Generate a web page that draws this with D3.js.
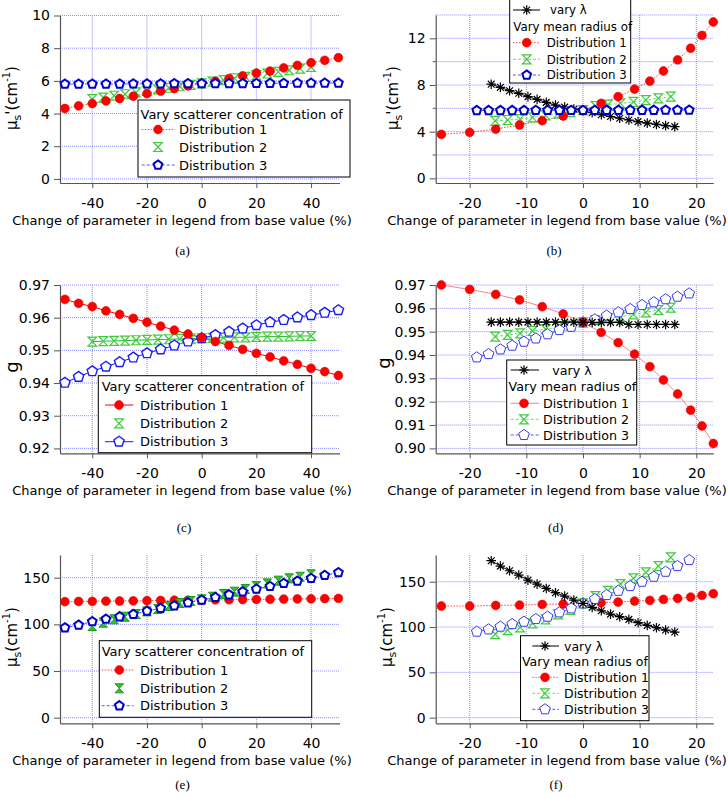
<!DOCTYPE html>
<html><head><meta charset="utf-8">
<script src="https://cdn.jsdelivr.net/npm/d3@7"></script>
<style>body{margin:0;background:#fff}svg{display:block}</style>
</head><body>
<svg id="chart" width="728" height="798"></svg>
<script>
// ---------------- DATA ----------------
const xConc = [-50,-45,-40,-35,-30,-25,-20,-15,-10,-5,0,5,10,15,20,25,30,35,40,45,50];
const xConc2 = [-40,-36,-32,-28,-24,-20,-16,-12,-8,-4,0,4,8,12,16,20,24,28,32,36,40];
const xLambda = [-16.2,-14.58,-12.96,-11.34,-9.72,-8.1,-6.48,-4.86,-3.24,-1.62,0,1.62,3.24,4.86,6.48,8.1,9.72,11.34,12.96,14.58,16.2];
const xRadius1 = [-25,-20,-15.4,-11.2,-7.2,-3.5,0,3.2,6.2,9.1,11.8,14.2,16.7,19,21,23];
const xRadius2 = [-15.5,-13.3,-11.1,-8.9,-6.6,-4.4,-2.2,0,2.2,4.4,6.6,8.9,11.1,13.3,15.5];
const xRadius3 = [-18.75,-16.67,-14.58,-12.5,-10.42,-8.33,-6.25,-4.17,-2.08,0,2.08,4.17,6.25,8.33,10.42,12.5,14.58,16.67,18.75];

// (a) reduced scattering, vary concentration
const aD1 = [4.31,4.47,4.61,4.77,4.92,5.06,5.22,5.37,5.53,5.69,5.83,5.98,6.14,6.30,6.48,6.60,6.79,6.95,7.11,7.26,7.42];
const aD2 = [4.88,4.98,5.09,5.18,5.29,5.38,5.48,5.58,5.67,5.76,5.85,5.95,6.05,6.15,6.25,6.35,6.45,6.55,6.65,6.75,6.85];
const aD3 = [5.80,5.80,5.81,5.81,5.81,5.82,5.82,5.82,5.83,5.83,5.83,5.84,5.84,5.84,5.85,5.85,5.85,5.86,5.86,5.86,5.87];
// (b) reduced scattering, vary radius / lambda
const bLambda = [8.07,7.80,7.51,7.29,7.00,6.77,6.51,6.28,6.10,5.93,5.80,5.62,5.45,5.30,5.15,5.00,4.86,4.73,4.62,4.52,4.43];
const bD1 = [3.77,3.94,4.22,4.57,4.94,5.34,5.80,6.43,7.00,7.65,8.34,9.20,10.15,11.15,12.25,13.40];
const bD2 = [4.92,5.00,5.08,5.22,5.40,5.55,5.68,5.85,6.20,6.32,6.42,6.55,6.70,6.85,7.00];
const bD3 = [5.82,5.82,5.82,5.82,5.82,5.83,5.83,5.83,5.83,5.83,5.83,5.84,5.84,5.84,5.84,5.84,5.85,5.85,5.85];
// (c) g, vary concentration
const cD1 = [0.9656,0.9644,0.9634,0.9621,0.9610,0.9598,0.9586,0.9574,0.9562,0.9550,0.9539,0.9527,0.9515,0.9503,0.9491,0.9480,0.9468,0.9457,0.9445,0.9435,0.9423];
const cD2 = [0.9527,0.9528,0.9529,0.9530,0.9531,0.9532,0.9533,0.9534,0.9535,0.9536,0.9537,0.9538,0.9539,0.9540,0.9540,0.9541,0.9542,0.9542,0.9543,0.9544,0.9544];
const cD3 = [0.9401,0.9419,0.9436,0.9450,0.9464,0.9478,0.9491,0.9503,0.9515,0.9527,0.9537,0.9547,0.9557,0.9567,0.9577,0.9586,0.9593,0.9601,0.9608,0.9615,0.9623];
// (d) g, vary radius / lambda
const dLambda = [0.9541,0.9541,0.9541,0.9541,0.9541,0.9541,0.9541,0.9541,0.9541,0.9541,0.9540,0.9540,0.9540,0.9540,0.9540,0.9531,0.9531,0.9531,0.9531,0.9531,0.9531];
const dD1 = [0.9700,0.9681,0.9660,0.9636,0.9607,0.9576,0.9540,0.9497,0.9453,0.9404,0.9350,0.9293,0.9233,0.9164,0.9096,0.9021];
const dD2 = [0.9479,0.9486,0.9493,0.9503,0.9511,0.9519,0.9526,0.9540,0.9550,0.9557,0.9564,0.9574,0.9583,0.9593,0.9603];
const dD3 = [0.9390,0.9404,0.9424,0.9440,0.9457,0.9471,0.9489,0.9507,0.9521,0.9540,0.9553,0.9569,0.9583,0.9597,0.9614,0.9626,0.9639,0.9650,0.9664];
// (e) scattering, vary concentration
const eD1 = [124.3,124.5,124.7,124.9,125.0,125.2,125.4,125.6,125.8,125.9,126.1,126.3,126.4,126.6,126.8,126.9,127.1,127.2,127.4,127.6,127.8];
const eD2 = [98.2,101.8,105.4,108.2,111.0,113.9,116.4,119.6,122.9,125.0,126.8,129.6,132.5,135.0,137.9,141.0,143.9,146.8,149.3,151.0,153.6];
const eD3 = [96.4,99.3,102.9,105.7,108.2,110.7,114.3,117.1,120.0,123.2,126.0,128.9,131.8,135.0,137.9,140.7,143.9,146.4,149.3,152.5,155.4];
// (f) scattering, vary radius / lambda
const fLambda = [173.2,167.3,162.1,157.4,151.8,147.4,142.6,137.9,134.2,129.8,126.1,121.7,118.0,114.3,111.4,108.5,104.8,101.8,99.3,96.7,94.5];
const fD1 = [123.2,123.2,123.9,124.3,125.0,125.4,126.1,126.8,127.6,128.7,129.4,130.5,131.6,133.1,134.9,136.8];
const fD2 = [92.3,96.7,99.6,104.0,108.5,114.0,118.8,126.1,134.2,140.0,147.4,153.7,160.3,167.3,176.8];
const fD3 = [94.9,97.4,100.4,103.3,105.9,108.8,111.4,116.2,120.6,126.1,130.9,135.3,140.0,145.2,150.0,155.5,161.0,167.3,173.9];

// ticks
const xTicksConc = [-40,-20,0,20,40];
const xTicksRadius = [-20,-10,0,10,20];
const yTicksA = [0,2,4,6,8,10];
const yTicksB = [0,4,8,12];
const yGridB = [0,2,4,6,8,10,12,14];
const yTicksC = [0.92,0.93,0.94,0.95,0.96,0.97];
const yTicksD = [0.90,0.91,0.92,0.93,0.94,0.95,0.96,0.97];
const yTicksEF = [0,50,100,150];

const xTitle = "Change of parameter in legend from base value (%)";
const legConcTitle = "Vary scatterer concentration of";
const legRadTitle = "Vary mean radius of";
const names = ["Distribution 1","Distribution 2","Distribution 3"];
const lambdaName = "vary \u03BB";
const panelLabels = ["(a)","(b)","(c)","(d)","(e)","(f)"];

// ---------------- STYLE ----------------
const FONT = "DejaVu Sans, Verdana, sans-serif";
const AXIS = "#555";
const GRID = "#8c8cff";
const svg = d3.select("#chart");

function pentagonPath(r){
  const pts=[0,1,2,3,4].map(i=>{const a=-Math.PI/2+i*2*Math.PI/5;return [r*Math.cos(a),r*Math.sin(a)];});
  return "M"+pts.map(p=>p[0].toFixed(2)+","+p[1].toFixed(2)).join("L")+"Z";
}
function hourglassPath(w,h){return `M${-w},${-h}H${w}L${-w},${h}H${w}Z`;}
function asteriskPath(r){const d=r*0.7071;return `M0,${-r}V${r}M${-r},0H${r}M${-d},${-d}L${d},${d}M${-d},${d}L${d},${-d}`;}
function circlePath(r){return `M${r},0A${r},${r} 0 1,1 ${-r},0A${r},${r} 0 1,1 ${r},0Z`;}

const MK = {
  circle:{d:circlePath(4.4),fill:"#ff0000",stroke:"#e00000",sw:0.6},
  hourglass:{d:hourglassPath(4.3,4.5),fill:"none",stroke:"#3ccc3c",sw:1.2},
  hourglassFill:{d:hourglassPath(4.3,4.5),fill:"#2fc42f",stroke:"#1a9a1a",sw:1},
  pentBold:{d:pentagonPath(4.6),fill:"#fff",stroke:"#0000cc",sw:2},
  pentSolid:{d:pentagonPath(5.4),fill:"#fff",stroke:"#1a1aff",sw:1.4},
  pentLight:{d:pentagonPath(5.6),fill:"#fff",stroke:"#3a3aee",sw:1},
  star:{d:asteriskPath(4.8),fill:"none",stroke:"#000",sw:1.2}
};
const LS = {
  redDot:{stroke:"#ff3030",dash:"1.5,1.5",w:0.9},
  redSolid:{stroke:"#ff0000",dash:null,w:1},
  redThin:{stroke:"#ff6060",dash:null,w:0.8},
  greenDot:{stroke:"#50d050",dash:"1.5,1.5",w:0.8},
  greenSolid:{stroke:"#2ab82a",dash:null,w:1},
  greenDash:{stroke:"#50d050",dash:"3,2",w:0.8},
  blueDash:{stroke:"#2a2aee",dash:"3,2",w:0.8},
  blueSolid:{stroke:"#1a1aff",dash:null,w:1},
  black:{stroke:"#000",dash:null,w:1}
};

function styleLine(sel, ls){
  sel.attr("fill","none").attr("stroke",ls.stroke).attr("stroke-width",ls.w);
  if(ls.dash) sel.attr("stroke-dasharray",ls.dash);
}
function styleMarker(sel, m){
  sel.attr("d",m.d).attr("fill",m.fill).attr("stroke",m.stroke).attr("stroke-width",m.sw);
}

function drawPanel(p){
  const g = svg.append("g");
  const x = d3.scaleLinear().domain(p.xDomain).range([p.left,p.right]);
  const y = d3.scaleLinear().domain(p.yDomain).range([p.bottom,p.top]);
  // grid
  g.append("g").selectAll("line").data(p.xTicks).join("line")
    .attr("x1",d=>x(d)).attr("x2",d=>x(d)).attr("y1",p.top).attr("y2",p.bottom)
    .attr("stroke",GRID).attr("stroke-width",1).attr("stroke-dasharray","1,1");
  g.append("g").selectAll("line").data(p.yGrid).join("line")
    .attr("x1",p.left).attr("x2",p.right).attr("y1",d=>y(d)).attr("y2",d=>y(d))
    .attr("stroke",GRID).attr("stroke-width",1).attr("stroke-dasharray","1,1");
  // axes
  const xa = g.append("g").attr("transform",`translate(0,${p.bottom})`)
    .call(d3.axisBottom(x).tickValues(p.xTicks).tickFormat(d=>String(d)).tickSize(5).tickPadding(10).tickSizeOuter(0));
  const ya = g.append("g").attr("transform",`translate(${p.left},0)`)
    .call(d3.axisLeft(y).tickValues(p.yTicks).tickFormat(p.yFormat).tickSize(6).tickPadding(4).tickSizeOuter(0));
  [xa,ya].forEach(a=>{
    a.select(".domain").attr("stroke",AXIS).attr("stroke-width",1.2);
    a.selectAll(".tick line").attr("stroke",AXIS);
    a.selectAll("text").attr("font-family",FONT).attr("font-size",14).attr("fill","#000");
  });
  if(p.yMinor){
    g.append("g").selectAll("line").data(p.yMinor).join("line")
      .attr("x1",p.left-3).attr("x2",p.left).attr("y1",d=>y(d)).attr("y2",d=>y(d)).attr("stroke",AXIS);
  }
  // lines
  p.series.forEach(s=>{
    if(!s.line) return;
    g.append("path").datum(d3.zip(s.x,s.y))
      .attr("d",d3.line().x(d=>x(d[0])).y(d=>y(d[1])))
      .call(styleLine,s.line);
  });
  // markers
  p.order.forEach(i=>{
    const s=p.series[i];
    g.append("g").selectAll("path").data(d3.zip(s.x,s.y)).join("path")
      .attr("transform",d=>`translate(${x(d[0])},${y(d[1])})`)
      .call(styleMarker,s.marker);
  });
  // axis title
  g.append("text").attr("x",p.xTitleX).attr("y",p.bottom+41.5).attr("text-anchor","middle")
    .attr("font-family",FONT).attr("font-size",13).text(xTitle);
  // y title
  const yt = g.append("text").attr("transform",`translate(${p.yTitlePos[0]},${p.yTitlePos[1]}) rotate(-90)`)
    .attr("text-anchor","middle").attr("font-family",FONT).attr("font-size",p.yTitleSize||15);
  if(p.yTitle==="g"){ yt.text("g"); }
  else {
    yt.append("tspan").text("\u03BC");
    yt.append("tspan").attr("dy",4).attr("font-size",11).text("s");
    yt.append("tspan").attr("dy",-4).text(p.yTitle==="musp"?"'(cm":"(cm");
    yt.append("tspan").attr("dy",-7).attr("font-size",10).text("-1");
    yt.append("tspan").attr("dy",7).text(")");
  }
  // panel label
  g.append("text").attr("x",p.labelPos[0]).attr("y",p.labelPos[1]).attr("text-anchor","middle")
    .attr("font-family","Liberation Serif, Times New Roman, serif").attr("font-size",13).text(p.label);
  drawLegend(p.legend,p.series);
}

function drawLegend(L,series){
  const g = svg.append("g");
  g.append("rect").attr("x",L.x0).attr("y",L.y0).attr("width",L.x1-L.x0).attr("height",L.y1-L.y0)
    .attr("fill","#fff").attr("stroke","#000").attr("stroke-width",1);
  L.rows.forEach(r=>{
    if(r.title!==undefined){
      g.append("text").attr("x",L.titleX).attr("y",r.cy+0.36*L.fs).attr("font-family",FONT)
        .attr("font-size",L.fs).text(r.title);
      return;
    }
    const s=series[r.s];
    const ll = s.legendLine===undefined ? s.line : s.legendLine;
    if(ll){
      g.append("line").attr("x1",L.lineX[0]).attr("x2",L.lineX[1]).attr("y1",r.cy).attr("y2",r.cy).call(styleLine,ll);
    }
    g.append("path").attr("transform",`translate(${L.markerX},${r.cy})`).call(styleMarker,s.marker);
    g.append("text").attr("x",r.textX||L.textX).attr("y",r.cy+0.36*L.fs).attr("font-family",FONT)
      .attr("font-size",L.fs).text(s.name);
  });
}

const leftX = {xDomain:[-51.8,50.4], left:60, right:339.5, xTicks:xTicksConc, xTitleX:182};
const rightX = {xDomain:[-26,23], left:435.7, right:713.3, xTicks:xTicksRadius, xTitleX:557};
const fmt0 = d=>String(d);
const fmt2 = d3.format(".2f");

// (a)
drawPanel(Object.assign({}, leftX, {
  yDomain:[-0.25,10], top:15.5, bottom:183, yTicks:yTicksA, yGrid:yTicksA, yFormat:fmt0,
  yTitle:"musp", yTitlePos:[17,98], label:panelLabels[0], labelPos:[182.5,254.5],
  series:[
    {name:names[0],x:xConc,y:aD1,marker:MK.circle,line:LS.redDot},
    {name:names[1],x:xConc2,y:aD2,marker:MK.hourglass,line:null},
    {name:names[2],x:xConc,y:aD3,marker:MK.pentBold,line:LS.blueDash}
  ], order:[1,0,2],
  legend:{x0:138,y0:100,x1:350,y1:177,fs:13,titleX:140.5,lineX:[141.7,175],markerX:158,textX:179,
    rows:[{title:legConcTitle,cy:114.3},{s:0,cy:129.5},{s:1,cy:147},{s:2,cy:165}]}
}));

// (b)
drawPanel(Object.assign({}, rightX, {
  yDomain:[-0.4,14], top:15, bottom:183, yTicks:yTicksB, yGrid:yGridB, yFormat:fmt0, yMinor:[2,6,10],
  yTitle:"musp", yTitlePos:[397.5,98], label:panelLabels[1], labelPos:[554,254.5],
  series:[
    {name:lambdaName,x:xLambda,y:bLambda,marker:MK.star,line:LS.black},
    {name:names[0],x:xRadius1,y:bD1,marker:MK.circle,line:LS.redDot},
    {name:names[1],x:xRadius2,y:bD2,marker:MK.hourglass,line:LS.greenDash},
    {name:names[2],x:xRadius3,y:bD3,marker:MK.pentBold,line:LS.blueDash}
  ], order:[0,2,1,3],
  legend:{x0:509.7,y0:-1,x1:630.7,y1:83,fs:11.8,titleX:513.3,lineX:[513,540],markerX:526.7,textX:546.7,
    rows:[{s:0,cy:10,textX:550},{title:legRadTitle,cy:26.7},{s:1,cy:42.7},{s:2,cy:59.3},{s:3,cy:75}]}
}));

// (c)
drawPanel(Object.assign({}, leftX, {
  yDomain:[0.9185,0.97], top:285, bottom:453.3, yTicks:yTicksC, yGrid:yTicksC, yFormat:fmt2,
  yTitle:"g", yTitleSize:18, yTitlePos:[17.5,367], label:panelLabels[2], labelPos:[184,532],
  series:[
    {name:names[0],x:xConc,y:cD1,marker:MK.circle,line:LS.redSolid},
    {name:names[1],x:xConc2,y:cD2,marker:MK.hourglass,line:LS.greenSolid,legendLine:null},
    {name:names[2],x:xConc,y:cD3,marker:MK.pentSolid,line:LS.blueSolid}
  ], order:[1,2,0],
  legend:{x0:98.3,y0:375.7,x1:311.7,y1:452.7,fs:13,titleX:101.7,lineX:[105,133.3],markerX:119,textX:140,
    rows:[{title:legConcTitle,cy:386.7},{s:0,cy:405},{s:1,cy:423.3},{s:2,cy:441.7}]}
}));

// (d)
drawPanel(Object.assign({}, rightX, {
  yDomain:[0.8979,0.97], top:285, bottom:453.3, yTicks:yTicksD, yGrid:yTicksD, yFormat:fmt2,
  yTitle:"g", yTitleSize:18, yTitlePos:[390,363], label:panelLabels[3], labelPos:[555.7,532],
  series:[
    {name:lambdaName,x:xLambda,y:dLambda,marker:MK.star,line:LS.black},
    {name:names[0],x:xRadius1,y:dD1,marker:MK.circle,line:LS.redThin},
    {name:names[1],x:xRadius2,y:dD2,marker:MK.hourglass,line:LS.greenDash},
    {name:names[2],x:xRadius3,y:dD3,marker:MK.pentLight,line:LS.blueDash}
  ], order:[2,3,1,0],
  legend:{x0:506.7,y0:360,x1:636.7,y1:445,fs:12.7,titleX:508.5,lineX:[510.7,539],markerX:524,textX:543,
    rows:[{s:0,cy:370,textX:552.3},{title:legRadTitle,cy:386.7},{s:1,cy:403.3},{s:2,cy:419.3},{s:3,cy:435}]}
}));

// (e)
drawPanel(Object.assign({}, leftX, {
  yDomain:[-6,174.3], top:555, bottom:723.3, yTicks:yTicksEF, yGrid:yTicksEF, yFormat:fmt0,
  yTitle:"mus", yTitlePos:[17,637], label:panelLabels[4], labelPos:[182.5,789],
  series:[
    {name:names[0],x:xConc,y:eD1,marker:MK.circle,line:LS.redDot},
    {name:names[1],x:xConc2,y:eD2,marker:MK.hourglassFill,line:null},
    {name:names[2],x:xConc,y:eD3,marker:MK.pentBold,line:LS.blueDash}
  ], order:[0,1,2],
  legend:{x0:99.3,y0:640.7,x1:311.7,y1:717.3,fs:13,titleX:101.7,lineX:[101.7,133.3],markerX:119.3,textX:140,
    rows:[{title:legConcTitle,cy:651.7},{s:0,cy:670},{s:1,cy:688.3},{s:2,cy:705.7}]}
}));

// (f)
drawPanel(Object.assign({}, rightX, {
  yDomain:[-6.2,179.5], top:555, bottom:723.3, yTicks:yTicksEF, yGrid:yTicksEF, yFormat:fmt0,
  yTitle:"mus", yTitlePos:[392,637], label:panelLabels[5], labelPos:[556,789],
  series:[
    {name:lambdaName,x:xLambda,y:fLambda,marker:MK.star,line:LS.black},
    {name:names[0],x:xRadius1,y:fD1,marker:MK.circle,line:LS.redDot},
    {name:names[1],x:xRadius2,y:fD2,marker:MK.hourglass,line:LS.greenDash},
    {name:names[2],x:xRadius3,y:fD3,marker:MK.pentLight,line:LS.blueDash}
  ], order:[1,2,3,0],
  legend:{x0:520.5,y0:635.7,x1:649,y1:720.7,fs:12.5,titleX:522,lineX:[532.3,559],markerX:545,textX:564,
    rows:[{s:0,cy:646},{title:legRadTitle,cy:661.7},{s:1,cy:677.3},{s:2,cy:693.3},{s:3,cy:709.3}]}
}));
</script>
</body></html>
